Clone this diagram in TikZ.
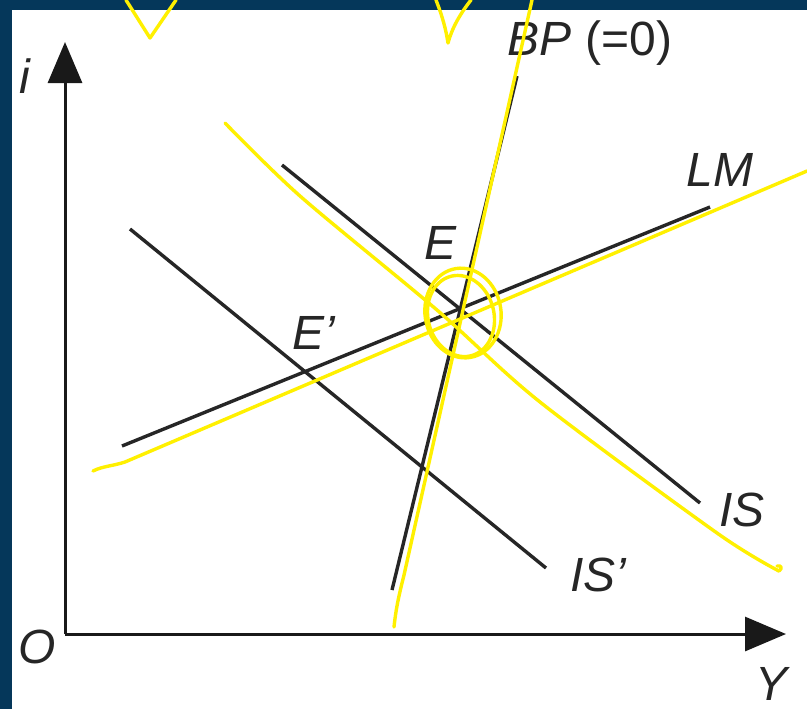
\documentclass[tikz,border=0pt]{standalone}
\usepackage{fontspec}
\setmainfont{Liberation Sans}
\usetikzlibrary{arrows.meta}
\definecolor{navy}{RGB}{5,55,90}
\definecolor{hl}{RGB}{255,240,0}
\begin{document}
\begin{tikzpicture}[x=0.5pt,y=-0.5pt,
  curve/.style={line width=1.7pt, black!85},
  axis/.style={line width=1.5pt, black!90, -{Triangle[length=20.5pt,width=17pt]}},
  lab/.style={font=\fontsize{24}{28}\selectfont\itshape, inner sep=0pt, text=black!85},
  marker/.style={hl, line width=1.7pt, line cap=round, line join=round}]
\useasboundingbox (0,0) rectangle (807,709);
\fill[white] (0,0) rectangle (807,709);
\fill[navy] (0,0) rectangle (807,10);
\fill[navy] (0,0) rectangle (12,709);

% axes
\coordinate (O) at (65,634);
\coordinate (itip) at (65,42);
\coordinate (Ytip) at (786,634);
\draw[axis] (O) -- (itip);
\draw[axis] (O) -- (Ytip);

% curves
\coordinate (LMa) at (122,446);
\coordinate (LMb) at (710,207);
\coordinate (ISa) at (282,165);
\coordinate (ISb) at (700,503);
\coordinate (ISpa) at (130,229);
\coordinate (ISpb) at (546,568);
\coordinate (BPa) at (392,590);
\coordinate (BPb) at (517,76);
\draw[curve] (LMa) -- (LMb);
\draw[curve] (ISa) -- (ISb);
\draw[curve] (ISpa) -- (ISpb);
\draw[curve] (BPa) -- (BPb);

% labels
\node[lab] (ilab) at (25,76) {i};
\node[lab] (Olab) at (37,647) {O};
\node[lab] (Ylab) at (771,684) {Y};
\node[lab] (LMlab) at (720,170) {LM};
\node[lab] (ISlab) at (742,510) {IS};
\node[lab] (ISplab) at (598,575) {IS’};
\node[lab] (Elab) at (440,243) {E};
\node[lab] (Eplab) at (314,333) {E’};
\node[lab] (BPlab) at (590,43) {BP {\upshape(=0)}};

% yellow annotations
\draw[marker] (126,0) -- (150,38) -- (176,0);
\draw[marker] (436,0) .. controls (443,18) and (446,30) .. (448,43)
              .. controls (452,28) and (460,14) .. (471,0);
\draw[marker] (394,627) .. controls (396,608) and (399,595) .. (404,575) -- (532,0);
\draw[marker] (93,471) .. controls (103,466) and (113,466) .. (125,462) -- (807,171);
\draw[marker] plot[smooth, tension=0.5] coordinates {(225,123) (300,196) (437,310) (540,402) (717,533) (779,571)};
\draw[marker] (779,571) .. controls (783,568) and (781,565) .. (777,566);
\draw[marker, rotate around={9:(463,313)}] (463,313) ellipse [x radius=38, y radius=45];
\draw[marker, rotate around={14:(461,316)}] (461,316) ellipse [x radius=33, y radius=41];
\end{tikzpicture}
\end{document}
